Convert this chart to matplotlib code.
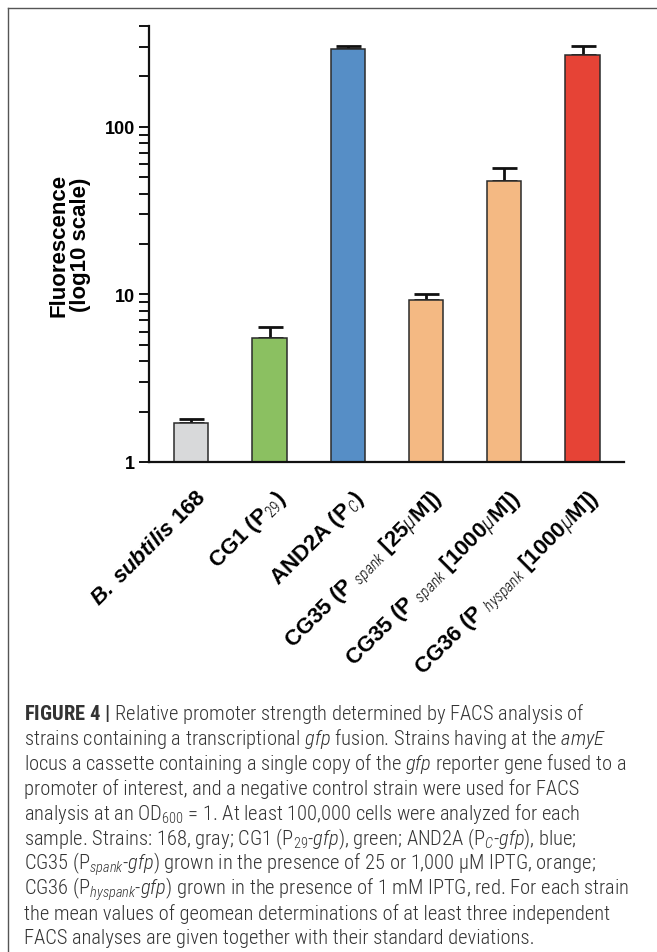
import matplotlib
matplotlib.use("Agg")
import matplotlib.pyplot as plt
from matplotlib import font_manager
from matplotlib.lines import Line2D
import numpy as np

# ---------------- data ----------------
categories = ["B. subtilis 168", "CG1 (P29)", "AND2A (PC)", "CG35 (Pspank [25uM])",
              "CG35 (Pspank [1000uM])", "CG36 (Physpank [1000uM])"]
tick_labels = [r"$\mathbfit{B.\ subtilis}$ 168",
               r"CG1 (P$_{29}$)",
               r"AND2A (P$_{C}$)",
               r"CG35 (P $_{\mathit{spank}}$ [25$\mu$M])",
               r"CG35 (P $_{\mathit{spank}}$ [1000$\mu$M])",
               r"CG36 (P $_{\mathit{hyspank}}$ [1000$\mu$M])"]
values = [1.72, 5.5, 293, 9.3, 47.5, 268]
errors = [0.08, 0.87, 11, 0.7, 9.0, 36]
colors = ["#d8d9da", "#8bc061", "#568ec6", "#f4b983", "#f4b983", "#e64336"]

y_ticks = [1, 10, 100]
y_tick_labels = ["1", "10", "100"]
y_label = "Fluorescence\n(log10 scale)"

caption_lines = [
    r"$\mathbf{FIGURE\ 4\ |}$ Relative promoter strength determined by FACS analysis of",
    r"strains containing a transcriptional $\mathit{gfp}$ fusion. Strains having at the $\mathit{amyE}$",
    r"locus a cassette containing a single copy of the $\mathit{gfp}$ reporter gene fused to a",
    r"promoter of interest, and a negative control strain were used for FACS",
    r"analysis at an OD$_{600}$ = 1. At least 100,000 cells were analyzed for each",
    r"sample. Strains: 168, gray; CG1 (P$_{29}$-$\mathit{gfp}$), green; AND2A (P$_{\mathit{C}}$-$\mathit{gfp}$), blue;",
    r"CG35 (P$_{\mathit{spank}}$-$\mathit{gfp}$) grown in the presence of 25 or 1,000 μM IPTG, orange;",
    r"CG36 (P$_{\mathit{hyspank}}$-$\mathit{gfp}$) grown in the presence of 1 mM IPTG, red. For each strain",
    r"the mean values of geomean determinations of at least three independent",
    r"FACS analyses are given together with their standard deviations.",
]

# ---------------- fonts ----------------
names = {f.name for f in font_manager.fontManager.ttflist}
cap_font = "Roboto Condensed" if "Roboto Condensed" in names else (
    "Liberation Sans Narrow" if "Liberation Sans Narrow" in names else "Liberation Sans")

plt.rcParams["font.family"] = ["Liberation Sans", "DejaVu Sans"]
plt.rcParams["mathtext.fontset"] = "custom"
plt.rcParams["mathtext.rm"] = "Liberation Sans:bold"
plt.rcParams["mathtext.it"] = "Liberation Sans:italic"
plt.rcParams["mathtext.bf"] = "Liberation Sans:bold"
plt.rcParams["mathtext.bfit"] = "Liberation Sans:bold:italic"

W, H = 657, 953
fig = plt.figure(figsize=(W / 100, H / 100), dpi=100)

# frame (top and left edges of the panel border)
fig.add_artist(Line2D([8 / W, 1.0], [1 - 8.5 / H, 1 - 8.5 / H], color="#555555", lw=1.0,
                      transform=fig.transFigure))
fig.add_artist(Line2D([8 / W, 8 / W], [0.0, 1 - 8.5 / H], color="#555555", lw=1.0,
                      transform=fig.transFigure))

ax = fig.add_axes([149 / W, 1 - 463 / H, (624 - 149) / W, (463 - 27) / H])
x = np.arange(len(values))
ax.bar(x, values, width=0.44, color=colors, edgecolor="#2b2b2b", linewidth=1.1, zorder=2)
ax.errorbar(x, values, yerr=[np.zeros(len(errors)), errors], fmt="none", ecolor="#111111",
            elinewidth=2.0, capsize=9, capthick=2.0, zorder=1)
ax.set_yscale("log")
ax.set_ylim(1, 400)
ax.set_xlim(-0.54, 5.53)
ax.set_yticks(y_ticks)
ax.set_yticklabels(y_tick_labels, fontsize=13, fontweight="bold")
ax.set_yticks([v * d for d in (1, 10) for v in range(2, 10)] + [200, 300, 400], minor=True)
ax.yaxis.set_minor_formatter(plt.NullFormatter())
ax.tick_params(axis="y", which="both", length=7, width=1.4, color="#111111", pad=3)
ax.tick_params(axis="x", length=0)
ax.set_xticks([])
for s in ("top", "right"):
    ax.spines[s].set_visible(False)
for s in ("left", "bottom"):
    ax.spines[s].set_linewidth(1.6)
    ax.spines[s].set_color("#111111")

ax.set_ylabel(y_label, fontsize=16, fontweight="bold", linespacing=1.0, labelpad=10)

# rotated category labels
for xi, lab in zip(x, tick_labels):
    ax.text(xi + 0.06, -0.055, lab, transform=ax.get_xaxis_transform(), rotation=45,
            ha="right", va="top", rotation_mode="anchor", fontsize=16, fontweight="bold")

# caption
plt.rcParams["mathtext.rm"] = cap_font + ":light"
plt.rcParams["mathtext.it"] = cap_font + ":italic:light"
plt.rcParams["mathtext.bf"] = cap_font + ":bold"
y0 = 714
for i, line in enumerate(caption_lines):
    fig.text(24 / W, 1 - (y0 + i * 25.0) / H, line, fontsize=14.8, family=cap_font,
             fontweight="light", color="#333333", ha="left", va="center")

fig.savefig("out.png", dpi=100)
